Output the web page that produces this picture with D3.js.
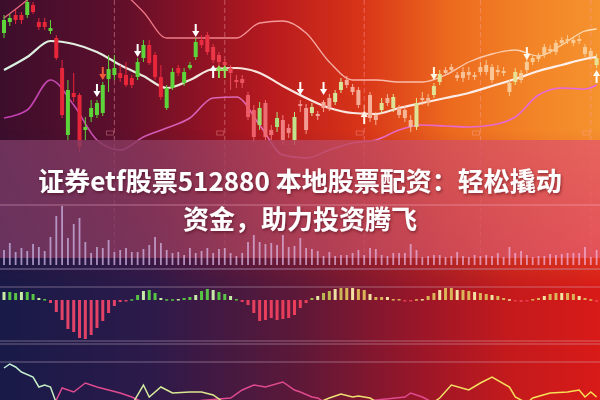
<!DOCTYPE html>
<html><head><meta charset="utf-8">
<script src="https://cdn.jsdelivr.net/npm/d3@7"></script>
<style>html,body{margin:0;padding:0;background:#000;overflow:hidden}svg{display:block}</style>
</head><body><svg id="c" width="600" height="400"></svg>
<script>
// ---------- data (price units arbitrary) ----------
const candleOpen = [167,178,185,185,185,195,178,178,169,162, 132,65,107,105,70,83,85,87,121,125, 127,125,122,123,142,155,145,123,92,112, 132,117,132,143,160,165,153,145,138,132, 120,121,105,90,75,97,70,73,80,72, 60,96,92,87,86,98,102,98,110,120, 113,110,88,105,85,90,102,92,92,90, 80,73,102,102,105,118,130,133,125,128, 128,125,133,135,133,130,129,117,118,127, 138,142,144,153,151,157,160,161,160,161, 153,149,135];
const candleClose = [180,182,180,180,198,188,173,173,172,142, 85,110,103,53,73,92,97,115,131,132, 122,115,115,138,155,137,123,103,112,128, 127,128,135,158,155,148,140,138,135,127, 118,117,83,63,92,63,65,82,60,67, 83,94,70,93,84,92,92,107,118,115, 108,95,84,82,80,97,97,103,85,82, 73,97,100,97,114,126,127,130,122,122, 125,123,128,128,120,128,127,108,128,120, 130,138,141,145,149,148,157,159,157,159, 146,143,142];
const candleHigh = [185,186,190,188,200,198,182,182,180,165, 140,120,127,107,83,100,100,118,145,145, 135,138,125,142,160,160,148,135,115,132, 135,132,138,162,165,168,156,148,141,135, 125,125,108,95,98,100,75,88,85,76, 88,100,96,97,89,100,106,110,122,124, 116,113,95,108,88,102,106,106,95,94, 85,102,108,106,117,130,133,136,128,133, 133,128,138,140,136,135,133,120,132,130, 142,145,147,156,155,160,163,165,164,165, 156,152,146];
const candleLow = [162,174,176,176,182,186,170,170,166,140, 82,60,98,48,60,78,82,84,108,120, 118,113,112,120,138,135,120,100,90,110, 124,114,130,140,152,145,137,133,130,110, 112,112,80,58,70,60,60,68,55,62, 55,88,66,84,80,88,89,95,107,112, 105,92,80,78,75,86,94,88,82,78, 68,70,95,94,102,115,124,127,119,118, 120,120,125,125,117,124,124,104,115,117, 127,135,138,142,146,145,155,156,154,156, 143,140,132];

const bandIdx    = [0,4,8,12,16,20,24,28,32,36,40,44,48,52,56,60,64,68,72,76,80,84,88,92,96,100,102];
const bandUpper  = [182,200,220,230,225,210,188,162,162,162,162,177,179,167,138,120,120,118,118,125,138,146,150,144,155,169,171];
const bandMiddle = [130,143,159,156,148,135,124,112,120,131,132,127,114,102,92,87,86,92,97,102,107,114,121,129,135,141,143];
const bandLower  = [82,90,120,95,60,50,63,72,82,102,103,75,45,42,50,57,60,70,75,74,73,75,83,105,112,111,115];

const volume = [15,22,13,17,14,21,18,14,28,49, 59,27,41,47,23,12,18,17,25,13, 15,17,13,13,16,20,28,22,15,12, 13,10,17,12,14,17,12,16,17,12, 9,12,23,30,23,21,22,20,30,18, 19, 27,17,16,14,9,13,9,10,10,12, 15,10,17,16,10,9,12,12,12,21, 15,8,9,10,10,8,9,13,9,8, 10,9,10,9,12,8,18,12,14,10, 8,9,9,11,10,11,12,12,12,18, 8,15];

const macd = [8,8,7,8,8,6,2,1,-3,-12, -20,-29,-32,-38,-39,-35,-28,-21,-13,-6, -2,-1,0,5,9,10,7,2,0,0, 1,2,3,5,9,11,10,8,6,4, 1,-2,-5,-13,-21,-20,-18,-20,-19,-18, -15, -8,-3,2,4,7,9,11,12,12,12, 11,10,6,3,3,3,1,1,-1,-1, 0,1,4,7,10,12,12,10,10,9, 8,7,6,5,4,2,0,-1,-2,-1, 1,2,4,6,7,7,7,6,4,2, 0,-2];

const kIdx = [0,1,2,3,5,6,7,8,9,15,22,24,25,27,29,32,34,36,38,51,56,58,60,61,63,65,72,75,77,80,82,84,87,88,90,91,94,97,99,100,101,102];
const kVal = [32,36,33,28,23,13,15,13,-3,-15,-5,15,3,13,7,8,8,5,-3,-10,2,6,3,4,2,-5,-10,2,15,10,17,23,13,3,-3,2,7,8,10,3,8,3];
const dIdx = [0,7,9,10,12,14,16,18,20,22,25,39,41,43,45,48,50,51,53,54,56,69,70,72,73,75,102];
const dVal = [-10,-5,0,12,8,17,13,10,7,3,-5,2,10,15,13,18,10,8,3,2,-5,3,7,3,0,-8,-10];

const gridIdx = [19,38,62,82,101];
const arrowIdx   = [16,17,23,33,36,37,38,51,55,62,74,90,102];
const arrowDir   = ['down','down','down','down','up','up','up','down','down','up','down','down','up'];
const arrowTip   = [103,120,143,163,135,135,135,105,105,89,120,140,130];
const arrowColor = ['#ffffff','#f2583a','#ffffff','#ffffff','#ffffff','#8fe05c','#8fe05c','#ffffff','#ffffff','#fff4e8','#fff4e0','#fff8ec','#fffaf0'];

const titleLines = ['证券etf股票512880 本地股票配资：轻松撬动','资金，助力投资腾飞'];

// ---------- drawing ----------
const svg = d3.select('#c');
const W = 600, H = 400;
const defs = svg.append('defs');
function hgrad(id, stops, y1, y2) {
  const g = defs.append('linearGradient').attr('id', id).attr('gradientUnits','userSpaceOnUse');
  if (y1 === undefined) g.attr('x1',0).attr('x2',W).attr('y1',0).attr('y2',0);
  else g.attr('x1',0).attr('x2',0).attr('y1',y1).attr('y2',y2);
  stops.forEach(s => g.append('stop').attr('offset', s[0]).attr('stop-color', s[1]).attr('stop-opacity', s[2] === undefined ? 1 : s[2]));
}
hgrad('bgTop', [[0,'#3c0e2c'],[0.18,'#5a0f2c'],[0.33,'#8c1224'],[0.45,'#b81a1e'],[0.6,'#d83418'],[0.75,'#ec6a1e'],[0.9,'#f38628'],[1,'#f5922e']]);
hgrad('bgBot', [[0,'#181a48'],[0.25,'#2c1a4a'],[0.5,'#5e1838'],[0.7,'#9a1628'],[0.85,'#c41a1c'],[1,'#d81a18']]);
hgrad('maskG', [[0,'#000'],[1,'#fff']], 130, 290);
hgrad('bandG', [[0,'#7a3a66'],[0.25,'#8c3a5e'],[0.5,'#b6465e'],[0.75,'#d4505f'],[1,'#e45a68']]);
hgrad('upG', [[0,'#e8607a'],[0.35,'#f0808a'],[0.55,'#f8b0a8'],[1,'#ffe0b8']]);
hgrad('midG', [[0,'#d8f2e2'],[0.4,'#f6e4dc'],[1,'#fff2f0']]);
hgrad('lowG', [[0,'#c03cb0'],[0.45,'#e070b8'],[0.7,'#e868c8'],[1,'#e468e6']]);
hgrad('kG', [[0,'#bff0d8'],[0.3,'#d8e890'],[0.6,'#f0e070'],[1,'#f8e050']]);
const mask = defs.append('mask').attr('id','bm');
mask.append('rect').attr('width',W).attr('height',H).attr('fill','url(#maskG)');
const flt = defs.append('filter').attr('id','ts').attr('x','-10%').attr('y','-30%').attr('width','120%').attr('height','160%');
flt.append('feDropShadow').attr('dx',1).attr('dy',1.5).attr('stdDeviation',1.5).attr('flood-color','#3a0010').attr('flood-opacity',0.55);

svg.append('rect').attr('width',W).attr('height',H).attr('fill','url(#bgTop)');
svg.append('rect').attr('width',W).attr('height',H).attr('fill','url(#bgBot)').attr('mask','url(#bm)');

const x = d3.scaleLinear().domain([0,102]).range([4,596.6]);
const y = d3.scaleLinear().domain([0,200]).range([200,0]);
const clamp = v => Math.max(0, Math.min(1, v));

// dashed grid
svg.append('g').selectAll('line').data(gridIdx).join('line')
  .attr('x1', d => x(d)).attr('x2', d => x(d)).attr('y1', 0).attr('y2', 258)
  .attr('stroke', 'rgba(255,160,170,0.45)').attr('stroke-width', 1).attr('stroke-dasharray', '5,3');
svg.append('g').selectAll('rect').data(gridIdx).join('rect')
  .attr('x', d => x(d) - 8).attr('y', 131).attr('width', 7).attr('height', 4)
  .attr('fill', 'none').attr('stroke', 'rgba(255,170,170,0.45)').attr('stroke-width', 0.8);

// bands
const line = d3.line().curve(d3.curveMonotoneX);
function band(vals, stroke, w) {
  svg.append('path').attr('d', line(bandIdx.map((d,i) => [x(d), y(vals[i])])))
    .attr('fill','none').attr('stroke', stroke).attr('stroke-width', w);
}
band(bandUpper, 'url(#upG)', 1.3);
band(bandLower, 'url(#lowG)', 1.6);
band(bandMiddle, 'url(#midG)', 2.2);

// candles
function candleColor(i) {
  const up = candleClose[i] >= candleOpen[i];
  const base = up ? '#5cd43a' : '#e8263a';
  const px = x(i);
  const tint = d3.interpolateRgb(up ? '#e0e8a8' : '#f4aaa8', '#fde2a0')(clamp((px - 260) / 260));
  return d3.interpolateRgb(base, tint)(clamp((px - 195) / 120) * 0.88);
}
const cg = svg.append('g');
d3.range(candleOpen.length).forEach(i => {
  const c = candleColor(i);
  cg.append('line').attr('x1', x(i)).attr('x2', x(i)).attr('y1', y(candleHigh[i])).attr('y2', y(candleLow[i]))
    .attr('stroke', c).attr('stroke-width', 1);
  const top = y(Math.max(candleOpen[i], candleClose[i]));
  const bot = y(Math.min(candleOpen[i], candleClose[i]));
  cg.append('rect').attr('x', x(i) - 2).attr('y', top).attr('width', 4).attr('height', Math.max(1.2, bot - top))
    .attr('fill', c);
});

// arrows
arrowIdx.forEach((idx, k) => {
  const cx = x(idx), ty = y(arrowTip[k]);
  const s = arrowDir[k] === 'down' ? 1 : -1;
  const p = `M${cx-1},${ty - s*13} L${cx+1},${ty - s*13} L${cx+1},${ty - s*6} L${cx+3.6},${ty - s*6} L${cx},${ty} L${cx-3.6},${ty - s*6} L${cx-1},${ty - s*6} Z`;
  svg.append('path').attr('d', p).attr('fill', arrowColor[k]);
});

// title band overlay
svg.append('rect').attr('x',0).attr('y',140).attr('width',W).attr('height',118).attr('fill','url(#bandG)').attr('opacity',0.8);
svg.append('line').attr('x1',0).attr('x2',W).attr('y1',205).attr('y2',205).attr('stroke','rgba(255,190,215,0.45)').attr('stroke-width',1);

// volume
const vy = d3.scaleLinear().domain([0,60]).range([265,205]);
svg.append('g').selectAll('rect').data(volume).join('rect')
  .attr('x', (d,i) => x(i) - 0.9).attr('width', 1.8)
  .attr('y', d => vy(d)).attr('height', d => vy(0) - vy(d))
  .attr('fill', (d,i) => d3.interpolateRgb('#c8b8e8', '#f4b0d8')(clamp(x(i)/600)))
  .attr('opacity', 0.75);

// panel separators
const sepY = [269, 287, 341, 344, 362];
svg.append('g').selectAll('line').data(sepY).join('line')
  .attr('x1',0).attr('x2',W).attr('y1', d => d).attr('y2', d => d)
  .attr('stroke', (d,i) => i === 0 ? 'rgba(200,180,220,0.6)' : 'rgba(220,190,210,0.45)').attr('stroke-width', 1);

// MACD histogram
const my = d3.scaleLinear().domain([-40,40]).range([340,260]);
svg.append('g').selectAll('rect').data(macd).join('rect')
  .attr('x', (d,i) => x(i) - 1.5).attr('width', 3)
  .attr('y', d => d >= 0 ? my(Math.max(d, 0.8)) : my(0))
  .attr('height', d => Math.max(1.5, Math.abs(my(d) - my(0))))
  .attr('fill', (d,i) => d >= 0
      ? d3.interpolateRgb(i % 3 === 0 ? '#c8eaa8' : '#58c446', i % 3 === 0 ? '#f4e0a0' : '#dcb458')(clamp((x(i) - 250) / 100))
      : d3.interpolateRgb('#e0446c', '#f03848')(clamp(x(i) / 600)));

// KDJ lines
const ky = d3.scaleLinear().domain([-20,40]).range([420,360]);
const kline = d3.line().curve(d3.curveLinear);
svg.append('path').attr('d', kline(dIdx.map((d,i) => [x(d), ky(dVal[i])])))
  .attr('fill','none').attr('stroke','#e04a8e').attr('stroke-width',1.5);
svg.append('path').attr('d', kline(kIdx.map((d,i) => [x(d), ky(kVal[i])])))
  .attr('fill','none').attr('stroke','url(#kG)').attr('stroke-width',1.5);

// title
svg.append('g').attr('filter','url(#ts)').selectAll('text').data(titleLines).join('text')
  .attr('x', 300).attr('y', (d,i) => 191 + i*38).attr('text-anchor','middle')
  .attr('font-family','"Noto Sans CJK SC","Noto Sans",sans-serif').attr('font-weight',700).attr('font-size',26)
  .attr('fill','#ffffff').text(d => d);
</script></body></html>
